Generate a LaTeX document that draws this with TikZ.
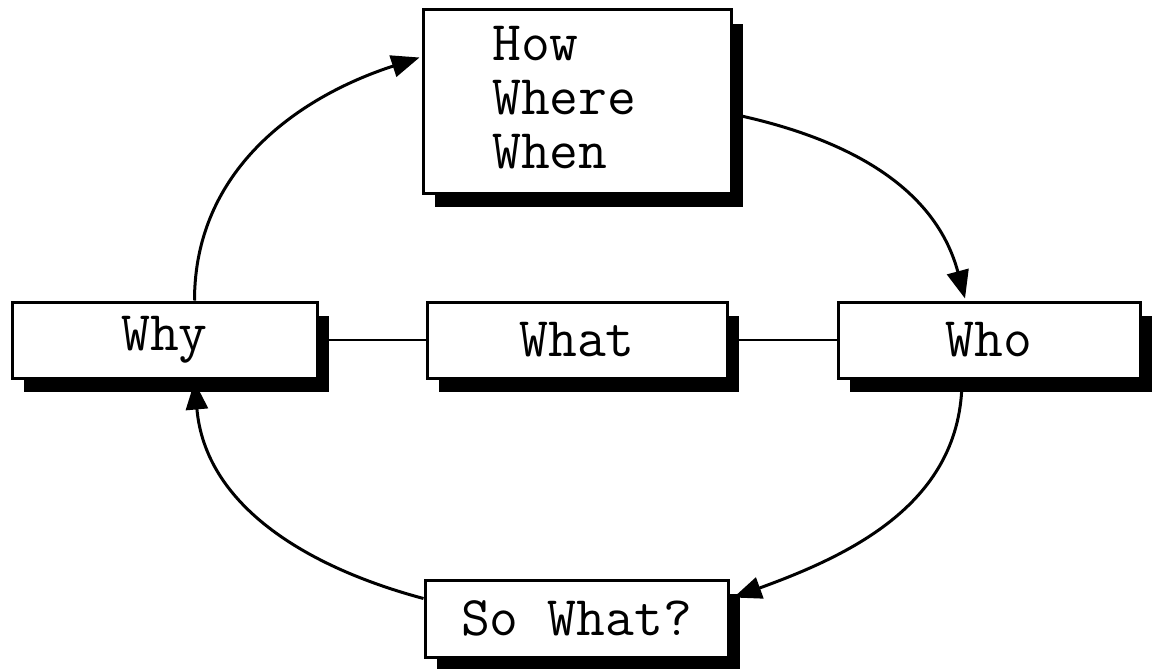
\documentclass[tikz,border=0pt]{standalone}
\usepackage{fontspec}
\setmonofont{Latin Modern Mono}
\usetikzlibrary{shadows,arrows.meta,calc}
\begin{document}
\begin{tikzpicture}[x=1pt,y=-1pt,
  box/.style={draw=black,line width=3pt,fill=white,inner sep=0pt,
    font=\fontsize{56}{56}\selectfont\ttfamily,
    drop shadow={shadow xshift=12pt,shadow yshift=-14pt,fill=black,opacity=1}},
  arc/.style={line width=3pt,-{Triangle[length=28pt,width=22pt]}},
  link/.style={line width=2pt}]
\useasboundingbox (0,0) rectangle (1152,669);
\node[box,minimum width=308pt,minimum height=183pt] (top) at (577,101.5) {};
\node[font=\fontsize{56}{54}\selectfont\ttfamily,align=left,anchor=north west,inner sep=0pt] (toptxt) at (492,26) {How\\Where\\When};
\node[box,minimum width=305pt,minimum height=76pt] (why) at (164.5,340) {Why};
\node[box,minimum width=300pt,minimum height=76pt] (what) at (577,340) {What};
\node[box,minimum width=302pt,minimum height=76pt] (who) at (989,340) {Who};
\node[box,minimum width=303pt,minimum height=77pt] (sowhat) at (576.5,618.5) {So What?};
\draw[link] (why.east) -- (what.west);
\draw[link] (what.east) -- (who.west);
\draw[arc] ($(why.north)+(30,0)$) to[out=90,in=198] ($(top.west)+(-2,-44)$);
\draw[arc] ($(top.east)+(2,13)$) to[out=-12,in=105] ($(who.north)+(-24,-2)$);
\draw[arc] ($(who.south)+(-27,0)$) to[out=-90,in=20] ($(sowhat.east)+(4,-21)$);
\draw[arc] ($(sowhat.west)+(0,-20)$) to[out=165,in=-85] ($(why.south)+(30,2)$);
\end{tikzpicture}
\end{document}
